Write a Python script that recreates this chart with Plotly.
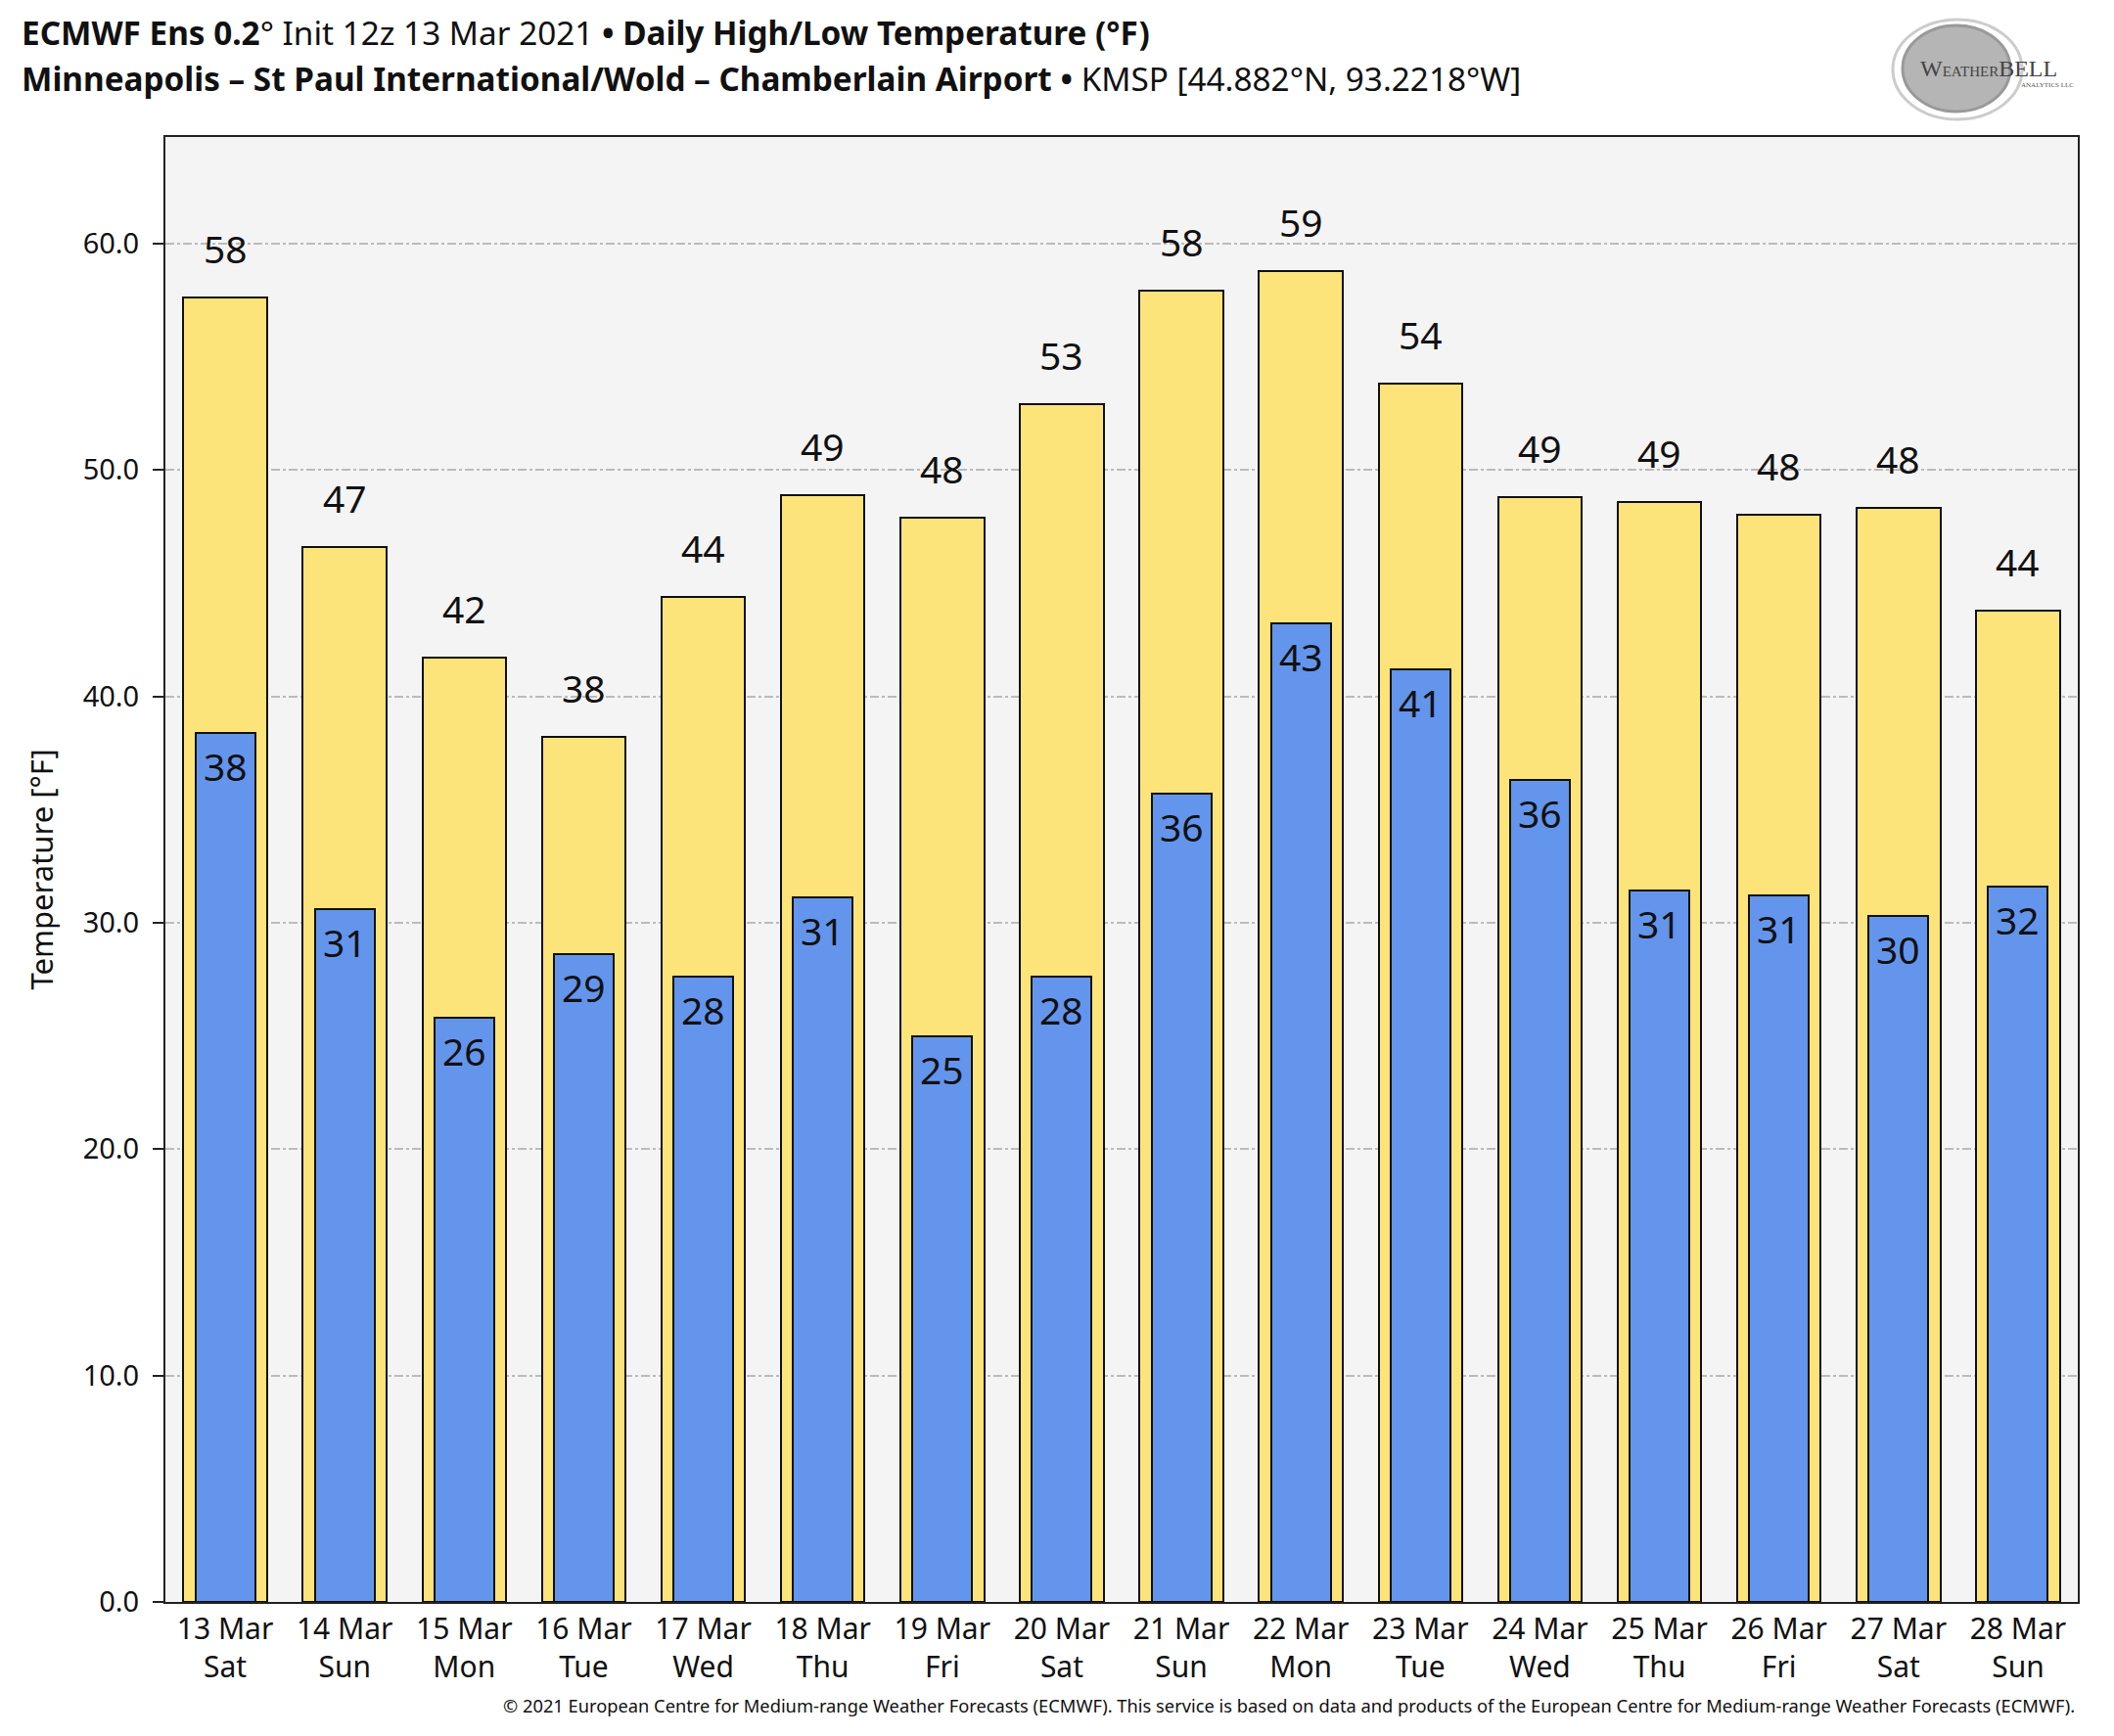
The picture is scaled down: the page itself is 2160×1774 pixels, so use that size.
import plotly.graph_objects as go

dates = ["13 Mar", "14 Mar", "15 Mar", "16 Mar", "17 Mar", "18 Mar", "19 Mar", "20 Mar",
         "21 Mar", "22 Mar", "23 Mar", "24 Mar", "25 Mar", "26 Mar", "27 Mar", "28 Mar"]
weekdays = ["Sat", "Sun", "Mon", "Tue", "Wed", "Thu", "Fri", "Sat",
            "Sun", "Mon", "Tue", "Wed", "Thu", "Fri", "Sat", "Sun"]
highs = [57.6, 46.6, 41.7, 38.2, 44.4, 48.9, 47.9, 52.9,
         57.9, 58.8, 53.8, 48.8, 48.6, 48.0, 48.3, 43.8]
lows = [38.4, 30.6, 25.8, 28.6, 27.6, 31.1, 25.0, 27.6,
        35.7, 43.2, 41.2, 36.3, 31.4, 31.2, 30.3, 31.6]
yticks = [0, 10, 20, 30, 40, 50, 60]

FONT = "Noto Sans"
W, H = 2160, 1774
ML, MR, MT, MB = 161, 45, 132, 145
PW, PH = W - ML - MR, H - MT - MB


def px_x(p):
    return (p - ML) / PW


def px_y(p):
    return (H - MB - p) / PH


xs = list(range(len(dates)))
ticktext = [f"{d}<br>{w}" for d, w in zip(dates, weekdays)]

fig = go.Figure()
fig.add_trace(go.Bar(
    x=xs, y=highs, width=0.70,
    marker=dict(color="#FCE37A", line=dict(color="#111111", width=2)),
    hoverinfo="y", name="High"))
fig.add_trace(go.Bar(
    x=xs, y=lows, width=0.50,
    marker=dict(color="#6495ED", line=dict(color="#111111", width=2)),
    hoverinfo="y", name="Low"))

annotations = []
for x, h in zip(xs, highs):
    annotations.append(dict(x=x, y=h, xref="x", yref="y", text=f"{h:.0f}",
                            showarrow=False, yanchor="bottom", yshift=22,
                            font=dict(family=FONT, size=39, color="#111111")))
for x, l in zip(xs, lows):
    annotations.append(dict(x=x, y=l, xref="x", yref="y", text=f"{l:.0f}",
                            showarrow=False, yanchor="top", yshift=-5,
                            font=dict(family=FONT, size=39, color="#111111")))

# titles
annotations.append(dict(
    x=px_x(12), y=px_y(25), xref="paper", yref="paper", xanchor="left", yanchor="middle",
    showarrow=False,
    text="<b>ECMWF Ens 0.2</b>° Init 12z 13 Mar 2021 <b>• Daily High/Low Temperature (°F)</b>",
    font=dict(family=FONT, size=33.3, color="#111111")))
annotations.append(dict(
    x=px_x(12), y=px_y(72), xref="paper", yref="paper", xanchor="left", yanchor="middle",
    showarrow=False,
    text="<b>Minneapolis – St Paul International/Wold – Chamberlain Airport •</b> KMSP [44.882°N, 93.2218°W]",
    font=dict(family=FONT, size=33.3, color="#111111")))
# y-axis title
annotations.append(dict(
    x=px_x(33), y=0.5, xref="paper", yref="paper", xanchor="center", yanchor="middle",
    showarrow=False, textangle=-90, text="Temperature [°F]",
    font=dict(family=FONT, size=31, color="#111111")))
# footnote
annotations.append(dict(
    x=px_x(2114), y=px_y(1734), xref="paper", yref="paper", xanchor="right", yanchor="middle",
    showarrow=False,
    text="© 2021 European Centre for Medium-range Weather Forecasts (ECMWF). This service is based on data and products of the European Centre for Medium-range Weather Forecasts (ECMWF).",
    font=dict(family=FONT, size=18.3, color="#111111")))
# logo text
annotations.append(dict(
    x=px_x(2024), y=px_y(62), xref="paper", yref="paper", xanchor="center", yanchor="middle",
    showarrow=False, text="W<span style='font-size:15px'>EATHER</span>BELL",
    font=dict(family="Liberation Serif", size=24, color="#444444")))
annotations.append(dict(
    x=px_x(2084), y=px_y(79), xref="paper", yref="paper", xanchor="center", yanchor="middle",
    showarrow=False, text="ANALYTICS LLC",
    font=dict(family="Liberation Serif", size=7, color="#555555")))

shapes = [
    dict(type="circle", xref="paper", yref="paper",
         x0=px_x(1936), x1=px_x(2046), y0=px_y(106), y1=px_y(18),
         fillcolor="#B5B5B5", line=dict(color="#999999", width=3), layer="below"),
    dict(type="circle", xref="paper", yref="paper",
         x0=px_x(1926), x1=px_x(2058), y0=px_y(114), y1=px_y(12),
         fillcolor="rgba(0,0,0,0)", line=dict(color="#CCCCCC", width=3), layer="below"),
]

fig.update_layout(
    width=W, height=H,
    margin=dict(l=ML, r=MR, t=MT, b=MB),
    paper_bgcolor="white", plot_bgcolor="#F4F4F4",
    barmode="overlay", showlegend=False, bargap=0,
    font=dict(family=FONT, size=28, color="#111111"),
    annotations=annotations, shapes=shapes,
    xaxis=dict(range=[-0.5, len(dates) - 0.5], tickmode="array", tickvals=xs, ticktext=ticktext,
               showline=True, linecolor="#222222", linewidth=2, mirror=True,
               showgrid=False, zeroline=False, ticks="",
               tickfont=dict(family=FONT, size=30, color="#111111")),
    yaxis=dict(range=[0, 64.7], tickmode="array", tickvals=yticks,
               ticktext=[f"{v:.1f}" for v in yticks],
               showline=True, linecolor="#222222", linewidth=2, mirror=True,
               ticks="outside", ticklen=11, tickwidth=2, tickcolor="#222222",
               ticklabelstandoff=8,
               showgrid=True, gridcolor="#BBBBBB", gridwidth=1.5, griddash="dashdot",
               zeroline=False,
               tickfont=dict(family=FONT, size=29, color="#111111")),
)

fig.write_html("out.html")
